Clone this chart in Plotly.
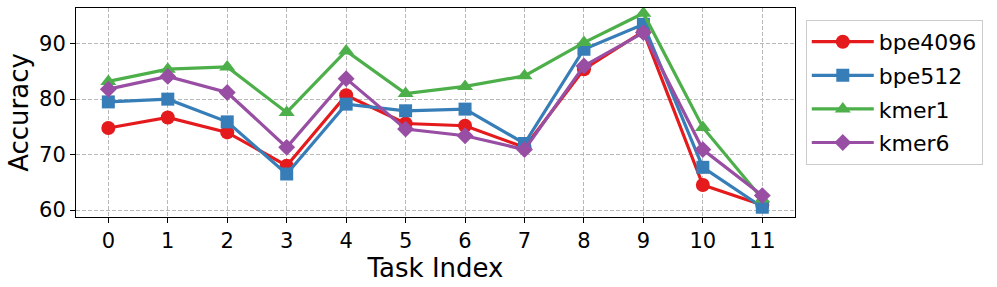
import plotly.graph_objects as go

tasks = list(range(12))
bpe4096 = [74.8, 76.7, 74.0, 68.0, 80.7, 75.6, 75.2, 71.3, 85.4, 92.2, 64.5, 60.9]
bpe512 = [79.5, 80.0, 75.9, 66.5, 79.1, 77.9, 78.2, 72.0, 89.0, 93.5, 67.7, 60.5]
kmer1 = [83.2, 85.4, 85.8, 77.6, 88.7, 81.0, 82.3, 84.2, 90.2, 95.5, 74.9, 62.0]
kmer6 = [81.8, 84.1, 81.2, 71.3, 83.7, 74.6, 73.4, 70.9, 86.0, 92.0, 70.9, 62.6]

series = [
    ("bpe4096", bpe4096, "#e41a1c", "circle", 14),
    ("bpe512", bpe512, "#377eb8", "square", 13),
    ("kmer1", kmer1, "#4daf4a", "triangle-up", 14),
    ("kmer6", kmer6, "#984ea3", "diamond", 13),
]

fig = go.Figure()
for name, vals, color, sym, sz in series:
    fig.add_trace(go.Scatter(
        x=tasks, y=vals, name=name, mode="lines+markers", legendgroup=name,
        line=dict(color=color, width=3.2),
        marker=dict(symbol=sym, size=sz, color=color, line=dict(width=0)),
    ))

axis_common = dict(
    showline=True, linecolor="black", linewidth=1, mirror=True,
    ticks="outside", tickcolor="black", ticklen=5,
    showgrid=True, gridcolor="#b8b8b8", griddash="4px,2px", gridwidth=1,
    zeroline=False, automargin=False,
    tickfont=dict(size=21, color="black"),
)

fig.update_layout(
    width=997, height=287,
    margin=dict(l=76, r=202, t=8, b=70),
    paper_bgcolor="white", plot_bgcolor="white",
    font=dict(family="DejaVu Sans", color="black"),
    xaxis=dict(range=[-0.544, 11.55], tickvals=tasks,
               title=dict(text="Task Index", font=dict(size=26), standoff=6),
               **axis_common),
    yaxis=dict(range=[58.74, 96.44], tickvals=[60, 70, 80, 90],
               title=dict(text="Accuracy", font=dict(size=26), standoff=2),
               **axis_common),
    legend=dict(x=1.015, y=0.943, xanchor="left", yanchor="top",
                bordercolor="#cccccc", borderwidth=1, itemwidth=62,
                font=dict(size=22), tracegroupgap=2),
)

fig.write_html("out.html", config={"displayModeBar": False},
               post_script="document.body.style.margin='0';")
